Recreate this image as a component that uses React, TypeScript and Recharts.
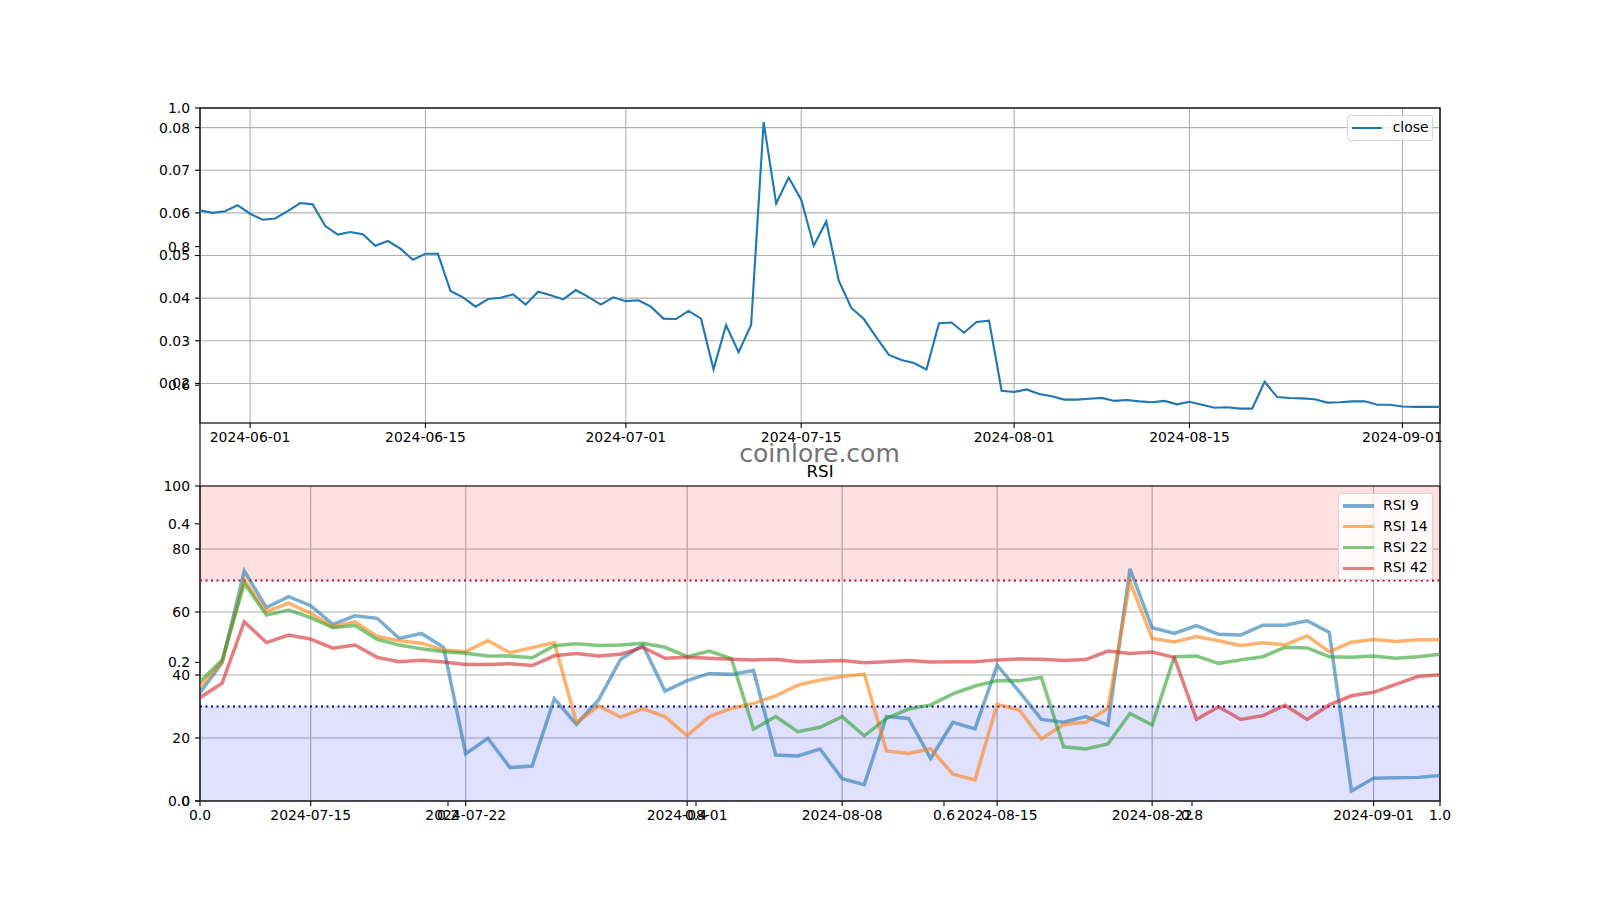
import React from 'react';
import {
  LineChart,
  Line,
  XAxis,
  YAxis,
  CartesianGrid,
  ReferenceArea,
  ReferenceLine,
  Legend,
} from 'recharts';

const FONT = '"DejaVu Sans", Verdana, sans-serif';
const FS = 13.9;

// ---------- close price (daily) ----------
const closeStart = '2024-05-28';
const closeValues = [
  0.0606, 0.0600, 0.0604, 0.0618, 0.0598, 0.0584, 0.0587, 0.0604, 0.0623, 0.0620,
  0.0569, 0.0549, 0.0555, 0.0550, 0.0523, 0.0534, 0.0516, 0.0490, 0.0504, 0.0504,
  0.0417, 0.0402, 0.0380, 0.0398, 0.0401, 0.0409, 0.0385, 0.0415, 0.0407, 0.0397,
  0.0419, 0.0403, 0.0385, 0.0402, 0.0393, 0.0395, 0.0380, 0.0352, 0.0351, 0.0370,
  0.0352, 0.0233, 0.0337, 0.0273, 0.0337, 0.0813, 0.0622, 0.0683, 0.0631, 0.0523,
  0.0580, 0.0441, 0.0377, 0.0351, 0.0308, 0.0267, 0.0255, 0.0248, 0.0233, 0.0341,
  0.0343, 0.0319, 0.0344, 0.0347, 0.0183, 0.0180, 0.0186, 0.0175, 0.0170, 0.0162,
  0.0162, 0.0164, 0.0166, 0.0159, 0.0161, 0.0158, 0.0156, 0.0159, 0.0151, 0.0157,
  0.0150, 0.0143, 0.0144, 0.0141, 0.0141, 0.0204, 0.0168, 0.0166, 0.0165, 0.0163,
  0.0155, 0.0156, 0.0158, 0.0158, 0.0150, 0.0150, 0.0146, 0.0145, 0.0145, 0.0145,
];
const closeTickDates = ['2024-06-01', '2024-06-15', '2024-07-01', '2024-07-15', '2024-08-01', '2024-08-15', '2024-09-01'];
const closeYTicks = [0.02, 0.03, 0.04, 0.05, 0.06, 0.07, 0.08];
const closeYDomain: [number, number] = [0.01072, 0.0846];

// ---------- RSI (daily) ----------
const rsiStart = '2024-07-10';
const rsi9 = [
  34.4, 43.9, 73.0, 61.4, 64.9, 62.0, 56.1, 58.8, 58.0, 51.6,
  53.2, 48.8, 15.0, 19.9, 10.6, 11.1, 32.5, 24.3, 32.1, 45.0,
  49.5, 34.9, 38.2, 40.5, 40.2, 41.4, 14.6, 14.3, 16.5, 7.1,
  5.2, 26.8, 26.2, 13.5, 25.0, 22.9, 43.1, 34.7, 25.9, 25.0,
  26.8, 24.1, 73.7, 55.0, 53.2, 55.7, 52.9, 52.7, 55.8, 55.8,
  57.2, 53.5, 3.2, 7.2, 7.4, 7.5, 8.1,
];
const rsi14 = [
  36.3, 44.2, 70.2, 60.1, 62.8, 59.6, 55.3, 56.9, 52.2, 50.9,
  50.1, 47.9, 47.4, 50.9, 47.1, 48.7, 50.3, 24.9, 30.2, 26.6,
  29.3, 26.8, 20.7, 26.8, 29.4, 31.0, 33.4, 36.8, 38.4, 39.5,
  40.3, 15.9, 15.1, 16.6, 8.5, 6.7, 30.7, 28.9, 19.7, 24.3,
  25.0, 29.4, 69.6, 51.6, 50.5, 52.2, 50.9, 49.4, 50.2, 49.6,
  52.4, 47.4, 50.4, 51.3, 50.6, 51.2, 51.2,
];
const rsi22 = [
  37.9, 44.8, 69.1, 59.0, 60.6, 58.2, 55.0, 55.7, 51.3, 49.5,
  48.3, 47.4, 46.9, 46.0, 46.0, 45.5, 49.3, 49.9, 49.4, 49.5,
  50.1, 48.8, 45.8, 47.6, 45.2, 22.8, 26.8, 22.0, 23.4, 26.8,
  20.7, 26.2, 29.2, 30.5, 34.0, 36.5, 38.2, 38.2, 39.2, 17.2,
  16.5, 18.1, 27.8, 24.1, 45.8, 46.0, 43.7, 44.8, 45.8, 48.8,
  48.6, 45.8, 45.6, 46.0, 45.3, 45.8, 46.6,
];
const rsi42 = [
  32.8, 37.4, 56.9, 50.3, 52.7, 51.4, 48.5, 49.5, 45.6, 44.2,
  44.7, 44.1, 43.3, 43.3, 43.6, 43.0, 46.1, 46.8, 46.0, 46.6,
  48.8, 45.3, 45.6, 45.3, 45.0, 44.8, 45.0, 44.2, 44.4, 44.6,
  43.9, 44.2, 44.6, 44.1, 44.2, 44.2, 44.8, 45.1, 45.0, 44.6,
  44.9, 47.6, 46.8, 47.3, 45.6, 25.9, 29.9, 25.9, 27.1, 30.4,
  25.9, 30.5, 33.4, 34.5, 37.0, 39.5, 40.1,
];
const rsiTickDates = ['2024-07-15', '2024-07-22', '2024-08-01', '2024-08-08', '2024-08-15', '2024-08-22', '2024-09-01'];
const rsiYTicks = [0, 20, 40, 60, 80, 100];
const rsiSeries = [
  { key: 'rsi9', name: 'RSI 9', color: '#1f77b4' },
  { key: 'rsi14', name: 'RSI 14', color: '#ff7f0e' },
  { key: 'rsi22', name: 'RSI 22', color: '#2ca02c' },
  { key: 'rsi42', name: 'RSI 42', color: '#d62728' },
];
const seriesOrder = rsiSeries.map((s) => s.name);
const overbought = 70;
const oversold = 30;

// ---------- background figure axis ----------
const bgTicks = [0, 0.2, 0.4, 0.6, 0.8, 1.0];

const DAY = 86400000;
const dayIndex = (start: string, d: string) => Math.round((Date.parse(d) - Date.parse(start)) / DAY);
const dateLabel = (start: string, i: number) => new Date(Date.parse(start) + i * DAY).toISOString().slice(0, 10);

const closeData = closeValues.map((v, i) => ({ d: i, date: dateLabel(closeStart, i), close: v }));
const rsiData = rsi9.map((v, i) => ({
  d: i,
  date: dateLabel(rsiStart, i),
  rsi9: v,
  rsi14: rsi14[i],
  rsi22: rsi22[i],
  rsi42: rsi42[i],
}));
const bgData = [{ x: 0, y: 0 }, { x: 1, y: 1 }];

const tickStyle = { fill: '#000', fontSize: FS, fontFamily: FONT };
const tickLine = { stroke: '#000', strokeWidth: 1.1 };

const makeLegend = (opts: {
  w: number; h: number; lw: number; opacity: number; lineLen: number; padL: number; gap: number;
}) => (props: any) => {
  const payload = [...(props.payload || [])].sort((a: any, b: any) => {
    const ia = seriesOrder.indexOf(a.value);
    const ib = seriesOrder.indexOf(b.value);
    return ia - ib;
  });
  return (
    <div
      style={{
        boxSizing: 'border-box',
        width: opts.w,
        height: opts.h,
        background: 'rgba(255,255,255,0.8)',
        border: '1px solid #d5d5d5',
        borderRadius: 3,
        padding: `5px 0 0 ${opts.padL}px`,
        fontFamily: FONT,
      }}
    >
      {payload.map((p: any, i: number) => (
        <div
          key={i}
          style={{ display: 'flex', alignItems: 'center', height: 13.9, marginTop: i ? 6.9 : 0 }}
        >
          <div style={{ width: opts.lineLen, height: opts.lw, background: p.color, opacity: opts.opacity, marginRight: opts.gap, flex: 'none' }} />
          <span style={{ fontSize: FS, lineHeight: '13.9px', color: '#000', whiteSpace: 'nowrap' }}>{p.value}</span>
        </div>
      ))}
    </div>
  );
};

const closeLegend = makeLegend({ w: 86, h: 26, lw: 2.1, opacity: 1, lineLen: 29.7, padL: 4, gap: 11 });
const rsiLegend = makeLegend({ w: 95, h: 87, lw: 3.5, opacity: 0.6, lineLen: 31.3, padL: 3.7, gap: 9 });

export default function App() {
  return (
    <div
      style={{
        position: 'absolute',
        left: 0,
        top: 0,
        width: 1600,
        height: 900,
        background: '#fff',
        fontFamily: FONT,
        overflow: 'hidden',
      }}
    >
      {/* background full-figure axes (0..1) */}
      <div style={{ position: 'absolute', left: 0, top: 0 }}>
        <LineChart width={1600} height={841} data={bgData} margin={{ top: 108, right: 160, bottom: 10, left: 0 }}>
          <XAxis
            dataKey="x"
            type="number"
            domain={[0, 1]}
            allowDataOverflow
            ticks={bgTicks}
            interval={0}
            tickFormatter={(v: number) => v.toFixed(1)}
            height={30}
            tickSize={5}
            tickMargin={4}
            axisLine={false}
            tickLine={tickLine}
            tick={tickStyle}
          />
          <YAxis
            dataKey="y"
            type="number"
            domain={[0, 1]}
            allowDataOverflow
            ticks={bgTicks}
            interval={0}
            tickFormatter={(v: number) => v.toFixed(1)}
            width={200}
            tickSize={5}
            tickMargin={5}
            axisLine={false}
            tickLine={tickLine}
            tick={tickStyle}
          />
          <ReferenceArea x1={0} x2={1} y1={0} y2={1} fill="none" stroke="#000" strokeWidth={1.1} />
        </LineChart>
      </div>

      {/* close price subplot */}
      <div style={{ position: 'absolute', left: 0, top: 0 }}>
        <LineChart width={1600} height={463} data={closeData} margin={{ top: 108, right: 160, bottom: 10, left: 0 }}>
          <CartesianGrid stroke="#b0b0b0" strokeWidth={1.1} />
          <XAxis
            dataKey="d"
            type="number"
            domain={[0, closeValues.length - 1]}
            allowDataOverflow
            ticks={closeTickDates.map((d) => dayIndex(closeStart, d))}
            interval={0}
            tickFormatter={(v: number) => dateLabel(closeStart, v)}
            height={30}
            tickSize={5}
            tickMargin={4}
            axisLine={false}
            tickLine={tickLine}
            tick={tickStyle}
          />
          <YAxis
            type="number"
            domain={closeYDomain}
            allowDataOverflow
            ticks={closeYTicks}
            interval={0}
            tickFormatter={(v: number) => v.toFixed(2)}
            width={200}
            tickSize={5}
            tickMargin={5}
            axisLine={false}
            tickLine={tickLine}
            tick={tickStyle}
          />
          <Line
            type="linear"
            dataKey="close"
            name="close"
            stroke="#1f77b4"
            strokeWidth={2.1}
            dot={false}
            activeDot={false}
            isAnimationActive={false}
          />
          <ReferenceArea
            x1={0}
            x2={closeValues.length - 1}
            y1={closeYDomain[0]}
            y2={closeYDomain[1]}
            fill="none"
            stroke="#000"
            strokeWidth={1.1}
          />
          <Legend
            layout="vertical"
            align="center"
            verticalAlign="middle"
            content={closeLegend}
            wrapperStyle={{ left: 1347, top: 115, width: 86, height: 26 }}
          />
        </LineChart>
      </div>

      {/* RSI subplot */}
      <div style={{ position: 'absolute', left: 0, top: 0 }}>
        <LineChart width={1600} height={841} data={rsiData} margin={{ top: 486, right: 160, bottom: 10, left: 0 }}>
          <CartesianGrid stroke="#b0b0b0" strokeWidth={1.1} />
          <XAxis
            dataKey="d"
            type="number"
            domain={[0, rsi9.length - 1]}
            allowDataOverflow
            ticks={rsiTickDates.map((d) => dayIndex(rsiStart, d))}
            interval={0}
            tickFormatter={(v: number) => dateLabel(rsiStart, v)}
            height={30}
            tickSize={5}
            tickMargin={4}
            axisLine={false}
            tickLine={tickLine}
            tick={tickStyle}
          />
          <YAxis
            type="number"
            domain={[0, 100]}
            allowDataOverflow
            ticks={rsiYTicks}
            interval={0}
            width={200}
            tickSize={5}
            tickMargin={5}
            axisLine={false}
            tickLine={tickLine}
            tick={tickStyle}
          />
          <ReferenceArea x1={0} x2={rsi9.length - 1} y1={overbought} y2={100} fill="#ff0000" fillOpacity={0.12} stroke="none" />
          <ReferenceArea x1={0} x2={rsi9.length - 1} y1={0} y2={oversold} fill="#0000ff" fillOpacity={0.12} stroke="none" />
          <ReferenceLine y={overbought} stroke="#cc0022" strokeWidth={2} strokeDasharray="2 3.5" />
          <ReferenceLine y={oversold} stroke="#0000a0" strokeWidth={2} strokeDasharray="2 3.5" />
          {rsiSeries.map((s) => (
            <Line
              key={s.key}
              type="linear"
              dataKey={s.key}
              name={s.name}
              stroke={s.color}
              strokeOpacity={0.6}
              strokeWidth={3.5}
              dot={false}
              activeDot={false}
              isAnimationActive={false}
            />
          ))}
          <ReferenceArea x1={0} x2={rsi9.length - 1} y1={0} y2={100} fill="none" stroke="#000" strokeWidth={1.1} />
          <Legend
            layout="vertical"
            align="center"
            verticalAlign="middle"
            content={rsiLegend}
            wrapperStyle={{ left: 1338, top: 493, width: 95, height: 87 }}
          />
        </LineChart>
      </div>

      {/* watermark and subplot title */}
      <svg width={1600} height={900} style={{ position: 'absolute', left: 0, top: 0, pointerEvents: 'none' }}>
        <text x={819.5} y={461.5} textAnchor="middle" fontSize={25} fill="#737373" fontFamily={FONT}>
          coinlore.com
        </text>
        <text x={820} y={477.3} textAnchor="middle" fontSize={16.7} fill="#000" fontFamily={FONT}>
          RSI
        </text>
      </svg>
    </div>
  );
}
